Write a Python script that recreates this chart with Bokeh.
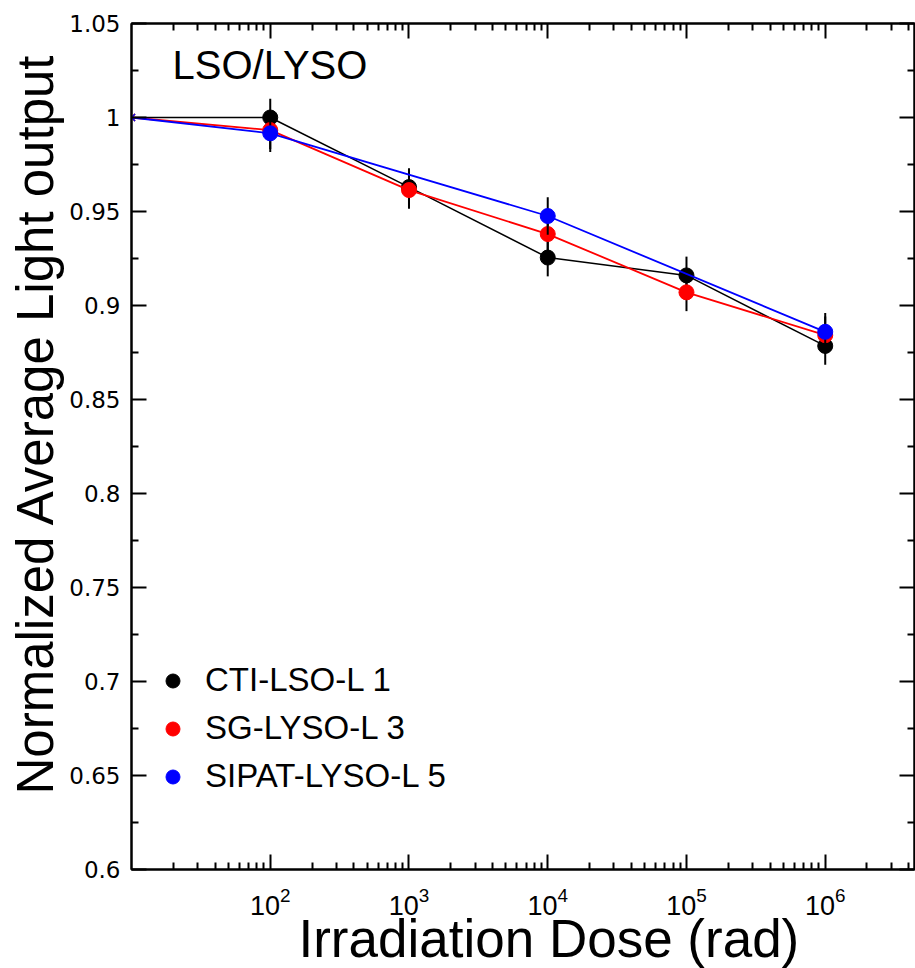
import math
from bokeh.plotting import figure
from bokeh.models import (Range1d, LinearAxis, LogAxis, FixedTicker, LogTickFormatter,
                          CustomJSTickFormatter, Legend, LegendItem, Label, Title)
from bokeh.embed import file_html
from bokeh.resources import INLINE

# ---- data ----
dose = [10, 1e2, 1e3, 1e4, 1e5, 1e6]
cti_lso = [1.0, 1.0, 0.963, 0.9255, 0.916, 0.8785]
sg_lyso = [1.0, 0.9933, 0.9614, 0.938, 0.907, 0.8842]
sipat_dose = [10, 1e2, 1e4, 1e6]
sipat_lyso = [1.0, 0.9916, 0.9476, 0.886]
err = 0.01

series_names = ["CTI-LSO-L 1", "SG-LYSO-L 3", "SIPAT-LYSO-L 5"]
series_colors = ["#000000", "#ff0000", "#0000ff"]
series_widths = [1.5, 1.8, 1.8]

x_decades = [1e2, 1e3, 1e4, 1e5, 1e6]
y_ticks = [0.6, 0.65, 0.7, 0.75, 0.8, 0.85, 0.9, 0.95, 1.0, 1.05]
title_text = "LSO/LYSO"
x_label = "Irradiation Dose (rad)"
y_label = "Normalized Average Light output"

X_MIN, X_MAX = 10, 4.4e6
Y_MIN, Y_MAX = 0.6, 1.05

# frame geometry (pixels) used to place the in-frame title
FL, FR, FT, FB = 131, 914, 23.5, 869


def px_to_x(px):
    lo, hi = math.log10(X_MIN), math.log10(X_MAX)
    return 10 ** (lo + (px - FL) / (FR - FL) * (hi - lo))


def px_to_y(py):
    return Y_MAX - (py - FT) / (FB - FT) * (Y_MAX - Y_MIN)


p = figure(width=915, height=968, x_axis_type="log",
           x_range=Range1d(X_MIN, X_MAX), y_range=Range1d(Y_MIN, Y_MAX),
           output_backend="svg", toolbar_location=None,
           min_border_left=131, min_border_right=1,
           min_border_top=23, min_border_bottom=99)
p.background_fill_color = "white"
p.border_fill_color = "white"
p.xgrid.visible = False
p.ygrid.visible = False
p.outline_line_color = "black"
p.outline_line_width = 2

minor_x = [m * 10 ** k for k in range(1, 7) for m in range(2, 10)]
xticker = FixedTicker(ticks=x_decades, minor_ticks=minor_x)
minor_y = [round(t + 0.025, 3) for t in y_ticks[:-1]]
yticker = FixedTicker(ticks=y_ticks, minor_ticks=minor_y)


def style_axis(ax):
    ax.major_tick_in = 15
    ax.major_tick_out = 0
    ax.minor_tick_in = 7
    ax.minor_tick_out = 0
    ax.major_tick_line_width = 2
    ax.minor_tick_line_width = 2
    ax.axis_line_width = 2
    ax.major_tick_line_color = "black"
    ax.minor_tick_line_color = "black"
    ax.axis_line_color = "black"


xa = p.xaxis[0]
xa.ticker = xticker
xa.formatter = LogTickFormatter()
style_axis(xa)
xa.major_label_text_font = "Liberation Sans"
xa.major_label_text_font_size = "27px"
xa.major_label_text_color = "black"
xa.major_label_standoff = 17

ya = p.yaxis[0]
ya.ticker = yticker
ya.formatter = CustomJSTickFormatter(code="return String(Number(tick.toFixed(2)))")
style_axis(ya)
ya.major_label_text_font = "DejaVu Sans"
ya.major_label_text_font_size = "23px"
ya.major_label_text_color = "black"
ya.major_label_standoff = 11

top_ax = LogAxis(ticker=xticker, formatter=CustomJSTickFormatter(code="return ''"))
style_axis(top_ax)
top_ax.major_label_standoff = 0
top_ax.major_label_text_font_size = "0px"
p.add_layout(top_ax, "above")

right_ax = LinearAxis(ticker=yticker, formatter=CustomJSTickFormatter(code="return ''"))
style_axis(right_ax)
right_ax.major_label_standoff = 0
right_ax.major_label_text_font_size = "0px"
p.add_layout(right_ax, "right")

series = [(dose, cti_lso), (dose, sg_lyso), (sipat_dose, sipat_lyso)]
legend_items = []
for (xs, ys), name, col, lw in zip(series, series_names, series_colors, series_widths):
    p.line(xs, ys, line_color=col, line_width=lw)
    p.segment(x0=xs[1:], y0=[v - err for v in ys[1:]], x1=xs[1:],
              y1=[v + err for v in ys[1:]], line_color="black", line_width=2)
    r = p.scatter(xs[1:], ys[1:], size=15, fill_color=col, line_color=col)
    p.scatter(xs[:1], ys[:1], marker="x", size=10, line_color=col, line_width=1.2)
    legend_items.append(LegendItem(label=name, renderers=[r]))

legend = Legend(items=legend_items, location=(24, 74),
                label_text_font="Liberation Sans", label_text_font_size="33px",
                label_text_color="black", glyph_width=35, glyph_height=35,
                label_standoff=15, spacing=10, padding=0, margin=0,
                border_line_color=None, background_fill_alpha=0)
p.add_layout(legend, "center")

p.add_layout(Label(x=px_to_x(172), y=px_to_y(65), text=title_text,
                   text_font="Liberation Sans", text_font_size="40px",
                   text_color="black", text_baseline="alphabetic"))

# axis titles, placed off-centre like the reference
p.add_layout(Title(text=x_label, align="left", offset=167, vertical_align="bottom",
                   standoff=-22, text_font="Liberation Sans", text_font_size="53px",
                   text_font_style="normal", text_color="black"), "below")
p.add_layout(Title(text=y_label, align="left", offset=75, vertical_align="bottom",
                   standoff=5, text_font="Liberation Sans", text_font_size="51px",
                   text_font_style="normal", text_color="black"), "left")

open("out.html", "w").write(file_html(p, INLINE))
